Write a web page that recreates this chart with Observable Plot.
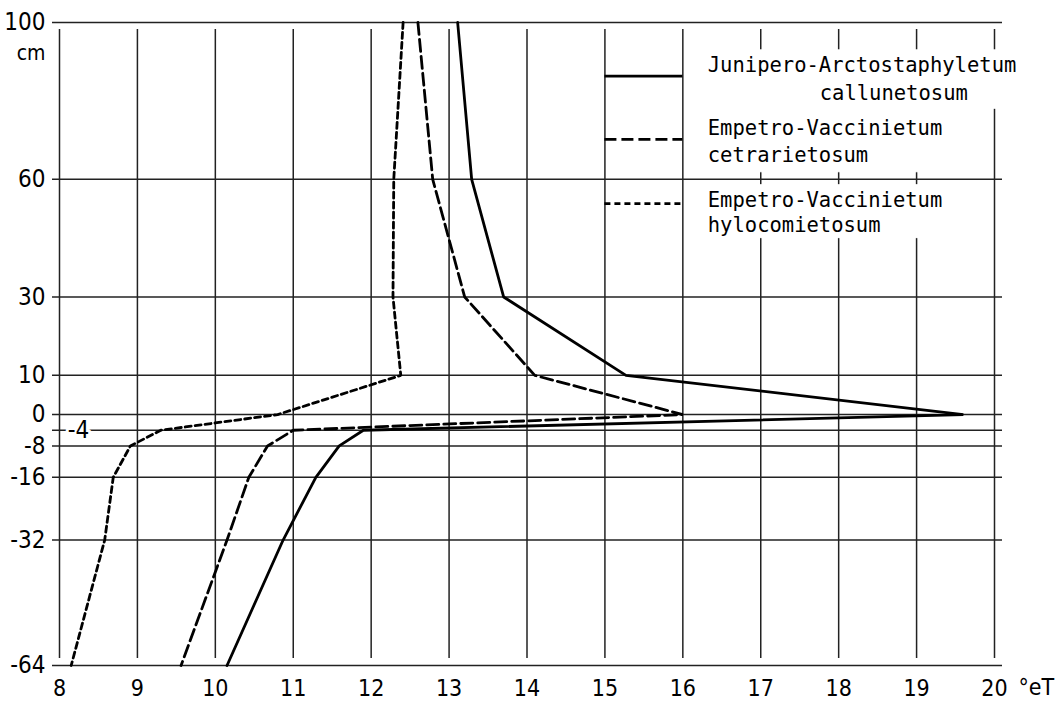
<!DOCTYPE html>
<html>
<head>
<meta charset="utf-8">
<script src="https://cdn.jsdelivr.net/npm/d3@7"></script>
<script src="https://cdn.jsdelivr.net/npm/@observablehq/plot@0.6"></script>
<style>
  html, body { margin: 0; padding: 0; background: #fff; }
  svg { display: block; }
</style>
</head>
<body>
<div id="chart"></div>
<script>
// ---- data ----
const xTicks = [8, 9, 10, 11, 12, 13, 14, 15, 16, 17, 18, 19, 20];
const yTicks = [100, 60, 30, 10, 0, -4, -8, -16, -32, -64];
const yTickLabels = [100, 60, 30, 10, 0, -8, -16, -32, -64]; // -4 is labelled inside the frame

const depth = [100, 60, 30, 10, 0, -4, -8, -16, -32, -64];
const junTemp = [13.11, 13.29, 13.70, 15.27, 19.60, 11.90, 11.59, 11.29, 10.87, 10.15];
const cetTemp = [12.60, 12.79, 13.20, 14.10, 16.00, 11.00, 10.67, 10.43, 10.15, 9.56];
const hylTemp = [12.41, 12.29, 12.28, 12.38, 10.80, 9.30, 8.91, 8.69, 8.58, 8.15];

const seriesNames = ["Junipero-Arctostaphyletum callunetosum",
                     "Empetro-Vaccinietum cetrarietosum",
                     "Empetro-Vaccinietum hylocomietosum"];
const seriesDash = ["none", "12,5", "6,4"];

// legend layout (in data units of the chart)
const legendSampleY = [86.3, 70.2, 53.8];
const legendSampleX1 = 15, legendSampleX2 = 16;
const legendTextX = 16.32;
const legendLines = ["Junipero-Arctostaphyletum", "callunetosum",
                     "Empetro-Vaccinietum", "cetrarietosum",
                     "Empetro-Vaccinietum", "hylocomietosum"];
const legendLineY = [89.1, 82.0, 73.0, 66.1, 54.7, 48.3];
const legendLineIndent = [0, 9, 0, 0, 0, 0];
// white paper labels behind the legend text (they hide the grid)
const legendBoxX1 = [16.23, 16.23, 16.23];
const legendBoxX2 = [20.33, 19.50, 19.50];
const legendBoxY1 = [78.0, 61.8, 45.0];
const legendBoxY2 = [92.9, 79.0, 58.5];

// ---- build tables ----
const temps = [junTemp, cetTemp, hylTemp];
const series = temps.map((t, i) => t.map((v, j) => ({temp: v, depth: depth[j], s: i})));
const legendSamples = legendSampleY.map((y, i) => ({y, s: i}));
const legendText = legendLines.map((t, i) => ({t, y: legendLineY[i], indent: legendLineIndent[i]}));
const legendBoxes = legendBoxX1.map((x1, i) => ({x1, x2: legendBoxX2[i], y1: legendBoxY1[i], y2: legendBoxY2[i]}));

const MONO = "'DejaVu Sans Mono', 'Liberation Mono', monospace";
const SANS = "'Liberation Sans Narrow', 'DejaVu Sans Condensed', 'Liberation Sans', sans-serif";
const charW = 12.44;
const gridColor = "#222";

const legendTextOpts = (indent) => ({
  x: () => legendTextX, y: "y", text: "t", dx: indent * charW,
  textAnchor: "start", lineAnchor: "middle", fontFamily: MONO, fontSize: 20.5, fill: "black"
});

const marks = [
  // grid
  Plot.ruleX(xTicks, {x: d => d, y1: -64, y2: 100, insetTop: -7, insetBottom: -7, stroke: gridColor, strokeWidth: 1.5}),
  Plot.ruleY(yTicks, {y: d => d, x1: 8, x2: 20, insetLeft: -7, insetRight: -8, stroke: gridColor, strokeWidth: 1.5}),
  // axes (labels only)
  Plot.axisX({ticks: xTicks, tickSize: 0, tickPadding: 14, label: null, tickFormat: d => String(d), fontSize: 23}),
  Plot.axisY({ticks: yTickLabels, tickSize: 0, tickPadding: 14, label: null, tickFormat: d => String(d)}),
  Plot.text(["cm"], {frameAnchor: "top-left", dx: -14, dy: 31, textAnchor: "end", lineAnchor: "middle", fontSize: 21}),
  Plot.text(["°eT"], {frameAnchor: "bottom-right", dx: 24, dy: 22, textAnchor: "start", lineAnchor: "middle", fontSize: 23}),
  Plot.text([-4], {x: () => 8, y: d => d, text: d => String(d), dx: 19, textAnchor: "middle", lineAnchor: "middle",
                   stroke: "white", strokeWidth: 6, fill: "black", paintOrder: "stroke"}),
  // legend backing + text
  Plot.rect(legendBoxes, {x1: "x1", x2: "x2", y1: "y1", y2: "y2", fill: "white", stroke: "white", strokeWidth: 1}),
  ...[0, 9].map(ind => Plot.text(legendText.filter(d => d.indent === ind), legendTextOpts(ind))),
  // legend samples
  ...legendSamples.map(d => Plot.ruleY([d], {y: "y", x1: legendSampleX1, x2: legendSampleX2,
                                             stroke: "black", strokeWidth: 2.8, strokeDasharray: seriesDash[d.s]})),
  // data lines
  ...series.map((rows, i) => Plot.line(rows, {x: "temp", y: "depth", stroke: "black", strokeWidth: 2.8,
                                              strokeDasharray: seriesDash[i], strokeLinejoin: "miter", curve: "linear"}))
];

const chart = Plot.plot({
  width: 1058,
  height: 702,
  marginLeft: 59,
  marginRight: 64,
  marginTop: 22,
  marginBottom: 37,
  x: {domain: [8, 20]},
  y: {domain: [-64, 100]},
  style: {fontFamily: SANS, fontSize: "24px", color: "black", background: "white", overflow: "visible"},
  marks
});
document.getElementById("chart").appendChild(chart);
</script>
</body>
</html>
